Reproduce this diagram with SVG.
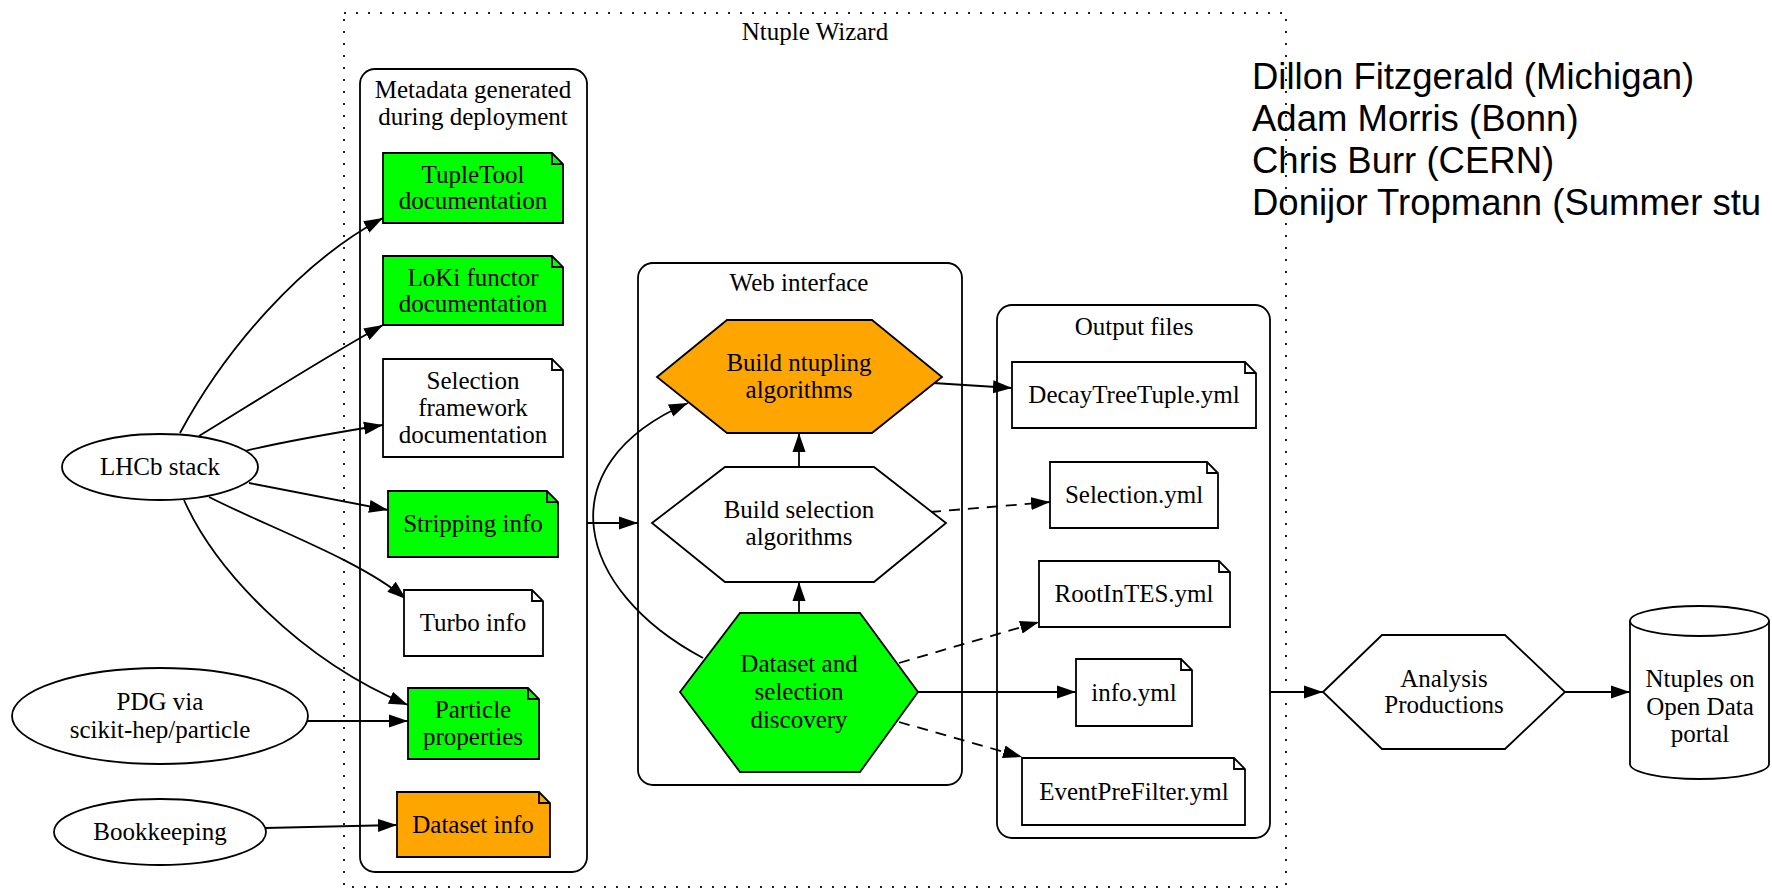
<svg xmlns="http://www.w3.org/2000/svg" width="1772" height="891" viewBox="0 0 1772 891">
<defs>
<style>
.t{font-family:"Liberation Serif","Times New Roman",serif;font-size:25px;fill:#000;text-anchor:middle}
.a{font-family:"Liberation Sans",Arial,sans-serif;font-size:36.5px;fill:#000}
.s{fill:none;stroke:#000;stroke-width:1.8}
.w{fill:#fff;stroke:#000;stroke-width:1.8}
.g{fill:#00ff00;stroke:#000;stroke-width:1.8}
.o{fill:#ffa500;stroke:#000;stroke-width:1.8}
.cl{fill:none;stroke:#000;stroke-width:1.8}
.e{fill:none;stroke:#000;stroke-width:1.8;marker-end:url(#arr)}
.d{stroke-dasharray:11,8}
</style>
<marker id="arr" markerUnits="userSpaceOnUse" markerWidth="20" markerHeight="14" refX="19" refY="7" orient="auto">
<path d="M0,0.5 L19,7 L0,13.5 Z" fill="#000"/>
</marker>
</defs>
<rect width="1772" height="891" fill="#fff"/>

<g id="cluster-ntuple-wizard">
<rect x="344" y="13" width="942" height="874" fill="none" stroke="#222" stroke-width="2" stroke-dasharray="2,10"/>
<text class="t" x="815" y="40">Ntuple Wizard</text>
</g>
<g id="cluster-metadata">
<rect class="cl" x="360" y="69" width="227" height="803" rx="15"/>
<text class="t" x="473" y="98">Metadata generated</text>
<text class="t" x="473" y="125">during deployment</text>
</g>
<g id="cluster-web">
<rect class="cl" x="638" y="263" width="324" height="522" rx="15"/>
<text class="t" x="799" y="291">Web interface</text>
</g>
<g id="cluster-output">
<rect class="cl" x="997" y="305" width="273" height="533" rx="15"/>
<text class="t" x="1134" y="335">Output files</text>
</g>

<g id="authors">
<text class="a" x="1252" y="89">Dillon Fitzgerald (Michigan)</text>
<text class="a" x="1252" y="131">Adam Morris (Bonn)</text>
<text class="a" x="1252" y="173">Chris Burr (CERN)</text>
<text class="a" x="1252" y="215">Donijor Tropmann (Summer stu</text>
</g>

<g id="connectors">
<path class="e" d="M180,433 C225,350 300,262 383,218"/>
<path class="e" d="M199,436 C250,405 320,360 383,325"/>
<path class="e" d="M245,451 C290,440 340,432 383,425"/>
<path class="e" d="M249,483 L388,510"/>
<path class="e" d="M209,497 C270,528 360,560 406,599"/>
<path class="e" d="M184,500 C215,570 300,660 408,705"/>
<path class="e" d="M308,721 L408,721"/>
<path class="e" d="M265,828 L397,825"/>
<path class="e" d="M587,523 L638,523"/>
<path class="e" d="M703,658 C575,590 545,465 688,403"/>
<path class="e" d="M799,467 L799,433"/>
<path class="e" d="M799,613 L799,582"/>
<path class="e" d="M933,383 L1012,388"/>
<path class="e d" d="M930,512 L1050,502"/>
<path class="e d" d="M899,663 L1039,622"/>
<path class="e" d="M918,692 L1076,692"/>
<path class="e d" d="M899,722 L1022,757"/>
<path class="e" d="M1270,692 L1323,692"/>
<path class="e" d="M1565,692 L1630,692"/>
</g>

<g id="lhcb-stack">
<ellipse class="w" cx="160" cy="467" rx="98" ry="33"/>
<text class="t" x="160" y="475">LHCb stack</text>
</g>
<g id="pdg">
<ellipse class="w" cx="160" cy="716" rx="148" ry="48"/>
<text class="t" x="160" y="710">PDG via</text>
<text class="t" x="160" y="738">scikit-hep/particle</text>
</g>
<g id="bookkeeping">
<ellipse class="w" cx="160" cy="832" rx="106" ry="33"/>
<text class="t" x="160" y="840">Bookkeeping</text>
</g>

<g id="tupletool">
<path class="g" d="M383,153 H552 L563,164 V223 H383 Z"/>
<path class="s" d="M552,153 V164 H563"/>
<text class="t" x="473" y="183">TupleTool</text>
<text class="t" x="473" y="209">documentation</text>
</g>
<g id="loki">
<path class="g" d="M383,256 H552 L563,267 V325 H383 Z"/>
<path class="s" d="M552,256 V267 H563"/>
<text class="t" x="473" y="286">LoKi functor</text>
<text class="t" x="473" y="312">documentation</text>
</g>
<g id="selection-framework">
<path class="w" d="M383,359 H552 L563,370 V457 H383 Z"/>
<path class="s" d="M552,359 V370 H563"/>
<text class="t" x="473" y="389">Selection</text>
<text class="t" x="473" y="416">framework</text>
<text class="t" x="473" y="443">documentation</text>
</g>
<g id="stripping-info">
<path class="g" d="M388,491 H547 L558,502 V557 H388 Z"/>
<path class="s" d="M547,491 V502 H558"/>
<text class="t" x="473" y="532">Stripping info</text>
</g>
<g id="turbo-info">
<path class="w" d="M404,590 H532 L543,601 V656 H404 Z"/>
<path class="s" d="M532,590 V601 H543"/>
<text class="t" x="473" y="631">Turbo info</text>
</g>
<g id="particle-properties">
<path class="g" d="M408,688 H528 L539,699 V759 H408 Z"/>
<path class="s" d="M528,688 V699 H539"/>
<text class="t" x="473" y="718">Particle</text>
<text class="t" x="473" y="745">properties</text>
</g>
<g id="dataset-info">
<path class="o" d="M397,792 H539 L550,803 V857 H397 Z"/>
<path class="s" d="M539,792 V803 H550"/>
<text class="t" x="473" y="833">Dataset info</text>
</g>

<g id="build-ntupling">
<polygon class="o" points="657,377 727,320 872,320 942,377 872,433 727,433"/>
<text class="t" x="799" y="371">Build ntupling</text>
<text class="t" x="799" y="398">algorithms</text>
</g>
<g id="build-selection">
<polygon class="w" points="652,523 725,467 874,467 946,523 874,582 725,582"/>
<text class="t" x="799" y="518">Build selection</text>
<text class="t" x="799" y="545">algorithms</text>
</g>
<g id="discovery">
<polygon class="g" points="680,692 740,613 860,613 918,692 860,772 740,772"/>
<text class="t" x="799" y="672">Dataset and</text>
<text class="t" x="799" y="700">selection</text>
<text class="t" x="799" y="728">discovery</text>
</g>

<g id="decaytreetuple">
<path class="w" d="M1012,362 H1245 L1256,373 V428 H1012 Z"/>
<path class="s" d="M1245,362 V373 H1256"/>
<text class="t" x="1134" y="403">DecayTreeTuple.yml</text>
</g>
<g id="selection-yml">
<path class="w" d="M1050,462 H1207 L1218,473 V528 H1050 Z"/>
<path class="s" d="M1207,462 V473 H1218"/>
<text class="t" x="1134" y="503">Selection.yml</text>
</g>
<g id="rootintes">
<path class="w" d="M1039,561 H1219 L1230,572 V627 H1039 Z"/>
<path class="s" d="M1219,561 V572 H1230"/>
<text class="t" x="1134" y="602">RootInTES.yml</text>
</g>
<g id="info-yml">
<path class="w" d="M1076,659 H1181 L1192,670 V726 H1076 Z"/>
<path class="s" d="M1181,659 V670 H1192"/>
<text class="t" x="1134" y="701">info.yml</text>
</g>
<g id="eventprefilter">
<path class="w" d="M1022,758 H1234 L1245,769 V825 H1022 Z"/>
<path class="s" d="M1234,758 V769 H1245"/>
<text class="t" x="1134" y="800">EventPreFilter.yml</text>
</g>

<g id="analysis-productions">
<polygon class="w" points="1323,692 1382,635 1505,635 1565,692 1505,749 1382,749"/>
<text class="t" x="1444" y="687">Analysis</text>
<text class="t" x="1444" y="713">Productions</text>
</g>
<g id="ntuples-portal">
<path class="w" d="M1630,621 A69.5,15 0 0,1 1769,621 V764 A69.5,15 0 0,1 1630,764 Z"/>
<path class="s" d="M1630,621 A69.5,15 0 0,0 1769,621"/>
<text class="t" x="1700" y="687">Ntuples on</text>
<text class="t" x="1700" y="715">Open Data</text>
<text class="t" x="1700" y="742">portal</text>
</g>
</svg>
